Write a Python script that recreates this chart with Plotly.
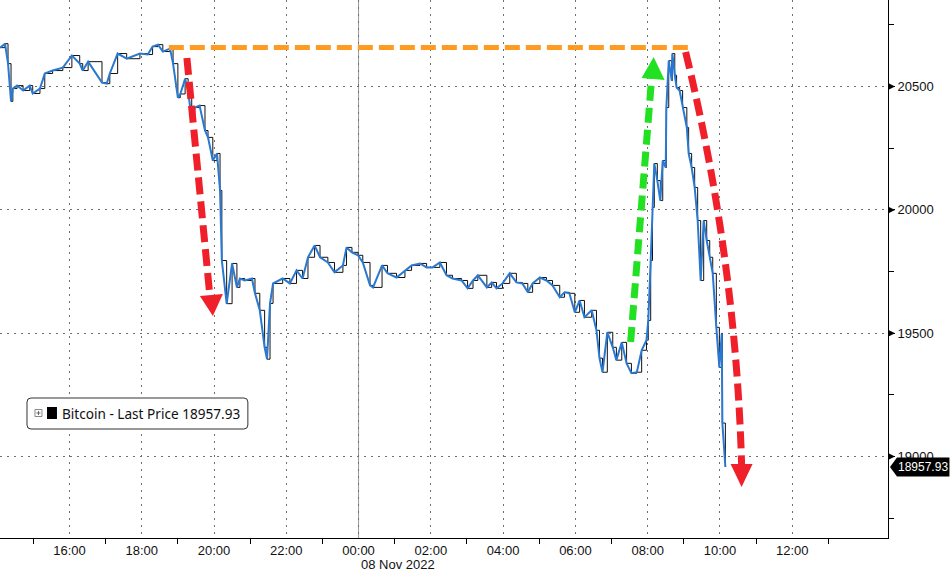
import plotly.graph_objects as go

# ---------------- data ----------------
times = [
    "2022-11-07 14:05", "2022-11-07 14:13", "2022-11-07 14:18", "2022-11-07 14:23", "2022-11-07 14:26",
    "2022-11-07 14:33", "2022-11-07 14:43", "2022-11-07 14:54", "2022-11-07 14:59", "2022-11-07 15:11",
    "2022-11-07 15:19", "2022-11-07 15:32", "2022-11-07 15:49", "2022-11-07 16:04", "2022-11-07 16:17",
    "2022-11-07 16:22", "2022-11-07 16:31", "2022-11-07 16:54", "2022-11-07 17:02", "2022-11-07 17:07",
    "2022-11-07 17:20", "2022-11-07 17:35", "2022-11-07 17:57", "2022-11-07 18:10", "2022-11-07 18:18",
    "2022-11-07 18:27", "2022-11-07 18:35", "2022-11-07 18:47", "2022-11-07 18:52", "2022-11-07 19:00",
    "2022-11-07 19:04", "2022-11-07 19:12", "2022-11-07 19:17", "2022-11-07 19:23", "2022-11-07 19:28",
    "2022-11-07 19:36", "2022-11-07 19:45", "2022-11-07 19:50", "2022-11-07 19:58", "2022-11-07 20:05",
    "2022-11-07 20:10", "2022-11-07 20:13", "2022-11-07 20:21", "2022-11-07 20:30", "2022-11-07 20:38",
    "2022-11-07 20:43", "2022-11-07 20:51", "2022-11-07 21:03", "2022-11-07 21:08", "2022-11-07 21:16",
    "2022-11-07 21:24", "2022-11-07 21:28", "2022-11-07 21:33", "2022-11-07 21:38", "2022-11-07 21:54",
    "2022-11-07 22:06", "2022-11-07 22:17", "2022-11-07 22:27", "2022-11-07 22:36", "2022-11-07 22:47",
    "2022-11-07 22:56", "2022-11-07 23:09", "2022-11-07 23:20", "2022-11-07 23:34", "2022-11-07 23:40",
    "2022-11-07 23:49", "2022-11-07 23:59", "2022-11-08 00:07", "2022-11-08 00:19", "2022-11-08 00:24",
    "2022-11-08 00:39", "2022-11-08 00:48", "2022-11-08 01:03", "2022-11-08 01:17", "2022-11-08 01:28",
    "2022-11-08 01:42", "2022-11-08 01:53", "2022-11-08 02:03", "2022-11-08 02:15", "2022-11-08 02:26",
    "2022-11-08 02:36", "2022-11-08 02:51", "2022-11-08 03:01", "2022-11-08 03:10", "2022-11-08 03:18",
    "2022-11-08 03:33", "2022-11-08 03:41", "2022-11-08 03:49", "2022-11-08 03:59", "2022-11-08 04:11",
    "2022-11-08 04:22", "2022-11-08 04:32", "2022-11-08 04:41", "2022-11-08 04:49", "2022-11-08 05:01",
    "2022-11-08 05:12", "2022-11-08 05:22", "2022-11-08 05:34", "2022-11-08 05:42", "2022-11-08 05:50",
    "2022-11-08 05:59", "2022-11-08 06:07", "2022-11-08 06:15", "2022-11-08 06:27", "2022-11-08 06:35",
    "2022-11-08 06:40", "2022-11-08 06:45", "2022-11-08 06:53", "2022-11-08 07:02", "2022-11-08 07:08",
    "2022-11-08 07:17", "2022-11-08 07:25", "2022-11-08 07:33", "2022-11-08 07:42", "2022-11-08 07:50",
    "2022-11-08 07:58", "2022-11-08 08:01", "2022-11-08 08:05", "2022-11-08 08:08", "2022-11-08 08:11",
    "2022-11-08 08:16", "2022-11-08 08:21", "2022-11-08 08:25", "2022-11-08 08:30", "2022-11-08 08:31",
    "2022-11-08 08:35", "2022-11-08 08:40", "2022-11-08 08:41", "2022-11-08 08:45", "2022-11-08 08:48",
    "2022-11-08 08:53", "2022-11-08 08:58", "2022-11-08 09:05", "2022-11-08 09:08", "2022-11-08 09:13",
    "2022-11-08 09:18", "2022-11-08 09:23", "2022-11-08 09:28", "2022-11-08 09:33", "2022-11-08 09:38",
    "2022-11-08 09:43", "2022-11-08 09:48", "2022-11-08 09:54", "2022-11-08 09:59", "2022-11-08 10:03",
    "2022-11-08 10:04", "2022-11-08 10:09",
]
prices = [
    20658, 20674, 20593, 20440, 20492,
    20504, 20484, 20504, 20472, 20492,
    20553, 20565, 20577, 20626, 20593,
    20565, 20601, 20516, 20512, 20553,
    20634, 20613, 20634, 20630, 20662,
    20670, 20642, 20654, 20593, 20455,
    20470, 20532, 20484, 20362, 20415,
    20423, 20322, 20294, 20200, 20229,
    20079, 19795, 19620, 19783, 19686,
    19722, 19714, 19722, 19662, 19593,
    19443, 19395, 19621, 19702, 19722,
    19702, 19755, 19722, 19808, 19856,
    19808, 19787, 19747, 19775, 19848,
    19828, 19816, 19787, 19694, 19686,
    19775, 19743, 19726, 19755, 19775,
    19783, 19767, 19767, 19787, 19735,
    19722, 19714, 19682, 19714, 19735,
    19686, 19706, 19682, 19702, 19743,
    19706, 19702, 19666, 19702, 19726,
    19714, 19694, 19646, 19666, 19662,
    19585, 19633, 19565, 19593, 19512,
    19399, 19342, 19504, 19443, 19391,
    19463, 19378, 19338, 19342, 19431,
    19472, 19552, 19795, 20010, 20188,
    20119, 20038, 20200, 20172, 20415,
    20605, 20524, 20634, 20546, 20496,
    20484, 20415, 20334, 20229, 20172,
    20091, 19957, 19714, 19957, 19876,
    19808, 19743, 19524, 19362, 19500,
    19136, 18957.93,
]
last_price = 18957.93
series_name = "Bitcoin - Last Price"
resistance_level = 20658

x_tick_vals = ["2022-11-07 16:00", "2022-11-07 18:00", "2022-11-07 20:00", "2022-11-07 22:00",
               "2022-11-08 00:00", "2022-11-08 02:00", "2022-11-08 04:00", "2022-11-08 06:00",
               "2022-11-08 08:00", "2022-11-08 10:00", "2022-11-08 12:00"]
x_tick_text = ["16:00", "18:00", "20:00", "22:00", "00:00", "02:00", "04:00", "06:00",
               "08:00", "10:00", "12:00"]
x_minor_vals = ["2022-11-07 15:00", "2022-11-07 17:00", "2022-11-07 19:00", "2022-11-07 21:00",
                "2022-11-07 23:00", "2022-11-08 01:00", "2022-11-08 03:00", "2022-11-08 05:00",
                "2022-11-08 07:00", "2022-11-08 09:00", "2022-11-08 11:00", "2022-11-08 13:00"]
y_tick_vals = [19000, 19500, 20000, 20500]
y_minor_vals = [18750, 19250, 19750, 20250, 20750]
date_label = "08 Nov 2022"

X_RANGE = ["2022-11-07 14:04:40", "2022-11-08 14:39"]
Y_RANGE = [18670, 20851]

# ---------------- layout geometry ----------------
W, H = 950, 572
ML, MR, MT, MB = 0, 61.5, 0, 34
PW, PH = W - ML - MR, H - MT - MB


def px(x):
    return x / PW


def py(y):
    return 1 - y / PH


def yv(v):
    return (v - Y_RANGE[0]) / (Y_RANGE[1] - Y_RANGE[0])


def path(pts, close=False):
    s = "M " + " L ".join(f"{px(a):.5f},{py(b):.5f}" for a, b in pts)
    return s + (" Z" if close else "")


FONT_NARROW = "Liberation Sans Narrow, Arial Narrow, Liberation Sans, Arial, sans-serif"
FONT = "Liberation Sans, Arial, sans-serif"

fig = go.Figure()

# candle-like black stepped outline
fig.add_trace(go.Scatter(
    x=times, y=prices, mode="lines", line=dict(color="#111111", width=1, shape="hv"),
    hoverinfo="skip", showlegend=False))
# blue close line
fig.add_trace(go.Scatter(
    x=times, y=prices, mode="lines", name=series_name,
    line=dict(color="#2a78d0", width=2), showlegend=False))

shapes = []

# day boundary
shapes.append(dict(type="line", xref="x", yref="paper", x0="2022-11-08 00:00", x1="2022-11-08 00:00",
                   y0=0, y1=1, line=dict(color="#9a9a9a", width=1), layer="below"))

# orange resistance dashed line
shapes.append(dict(type="line", xref="x", yref="y", x0="2022-11-07 18:45", x1="2022-11-08 09:15",
                   y0=resistance_level, y1=resistance_level,
                   line=dict(color="#ff9a22", width=5, dash="15px,6px")))

RED = "#f0202a"
GREEN = "#22e022"
# red arrow 1
shapes.append(dict(type="path", xref="paper", yref="paper",
                   path=path([(187, 58), (210, 296)]),
                   line=dict(color=RED, width=7, dash="17px,7px")))
shapes.append(dict(type="path", xref="paper", yref="paper",
                   path=path([(200, 296), (223, 294), (213, 316)], True),
                   fillcolor=RED, line=dict(width=0)))
# green arrow
shapes.append(dict(type="path", xref="paper", yref="paper",
                   path=path([(631, 342), (652, 78)]),
                   line=dict(color=GREEN, width=7, dash="15px,7px")))
shapes.append(dict(type="path", xref="paper", yref="paper",
                   path=path([(642, 78), (665, 80), (654, 57)], True),
                   fillcolor=GREEN, line=dict(width=0)))
# red curved arrow 2
shapes.append(dict(type="path", xref="paper", yref="paper",
                   path=(f"M {px(686):.5f},{py(52):.5f} Q {px(736):.5f},{py(257):.5f} "
                         f"{px(742):.5f},{py(464):.5f}"),
                   line=dict(color=RED, width=7, dash="17px,7px")))
shapes.append(dict(type="path", xref="paper", yref="paper",
                   path=path([(731, 464), (753, 464), (742, 487)], True),
                   fillcolor=RED, line=dict(width=0)))

# y major tick markers (small triangles)
for v in y_tick_vals:
    yp = (1 - yv(v)) * PH
    shapes.append(dict(type="path", xref="paper", yref="paper",
                       path=path([(PW, yp - 3.5), (PW + 7, yp), (PW, yp + 3.5)], True),
                       fillcolor="black", line=dict(width=0)))

# legend box
r = 4
lx0, lx1, ly0, ly1 = 27, 248, 398, 429
shapes.append(dict(type="path", xref="paper", yref="paper",
                   path=(f"M {px(lx0 + r)},{py(ly0)} L {px(lx1 - r)},{py(ly0)} "
                         f"Q {px(lx1)},{py(ly0)} {px(lx1)},{py(ly0 + r)} "
                         f"L {px(lx1)},{py(ly1 - r)} Q {px(lx1)},{py(ly1)} {px(lx1 - r)},{py(ly1)} "
                         f"L {px(lx0 + r)},{py(ly1)} Q {px(lx0)},{py(ly1)} {px(lx0)},{py(ly1 - r)} "
                         f"L {px(lx0)},{py(ly0 + r)} Q {px(lx0)},{py(ly0)} {px(lx0 + r)},{py(ly0)} Z"),
                   fillcolor="white", line=dict(color="#333333", width=1)))
shapes.append(dict(type="rect", xref="paper", yref="paper",
                   x0=px(35), x1=px(42), y0=py(416.5), y1=py(409.5),
                   line=dict(color="#888888", width=1), fillcolor="white"))
shapes.append(dict(type="line", xref="paper", yref="paper",
                   x0=px(36.5), x1=px(40.5), y0=py(413), y1=py(413),
                   line=dict(color="#666666", width=1)))
shapes.append(dict(type="line", xref="paper", yref="paper",
                   x0=px(38.5), x1=px(38.5), y0=py(411), y1=py(415),
                   line=dict(color="#666666", width=1)))
shapes.append(dict(type="rect", xref="paper", yref="paper",
                   x0=px(47), x1=px(57), y0=py(419), y1=py(407),
                   line=dict(width=0), fillcolor="black"))

# last price tag
tag_y = (1 - yv(last_price)) * PH
shapes.append(dict(type="path", xref="paper", yref="paper",
                   path=path([(PW + 2, tag_y), (PW + 9, tag_y - 9.5), (W, tag_y - 9.5),
                              (W, tag_y + 9.5), (PW + 9, tag_y + 9.5)], True),
                   fillcolor="black", line=dict(width=0)))

annotations = [
    dict(xref="paper", yref="paper", x=px(60), y=py(413.5), xanchor="left", yanchor="middle",
         text=f"{series_name} {last_price:.2f}", showarrow=False,
         font=dict(family="Noto Sans, DejaVu Sans, sans-serif", size=13.6, color="#111111")),
    dict(xref="paper", yref="paper", x=px(PW + 9 + (W - PW - 9) / 2), y=py(tag_y), xanchor="center",
         yanchor="middle", text=f"{last_price:.2f}", showarrow=False,
         font=dict(family=FONT, size=12, color="white")),
    dict(xref="paper", yref="paper", x=px(398), y=py(564), xanchor="center", yanchor="middle",
         text=date_label, showarrow=False, font=dict(family=FONT_NARROW, size=13, color="#111111")),
]

fig.update_layout(
    width=W, height=H,
    margin=dict(l=ML, r=MR, t=MT, b=MB, pad=0),
    paper_bgcolor="white", plot_bgcolor="white",
    showlegend=False,
    shapes=shapes, annotations=annotations,
    xaxis=dict(
        type="date", range=X_RANGE,
        tickmode="array", tickvals=x_tick_vals, ticktext=x_tick_text,
        ticks="", showgrid=True, gridcolor="#707070", griddash="2px,5px", gridwidth=1,
        showline=True, linecolor="black", linewidth=1, zeroline=False,
        tickfont=dict(family=FONT_NARROW, size=13, color="#111111"),
        minor=dict(tickmode="array", tickvals=x_minor_vals, ticks="outside", ticklen=5,
                   tickcolor="black", tickwidth=1, showgrid=False),
    ),
    yaxis=dict(
        side="right", range=Y_RANGE,
        tickmode="array", tickvals=y_tick_vals, ticktext=[str(v) for v in y_tick_vals],
        ticks="outside", ticklen=6, tickcolor="black", tickwidth=1,
        showgrid=True, gridcolor="#707070", griddash="2px,5px", gridwidth=1,
        showline=True, linecolor="black", linewidth=1, zeroline=False,
        tickfont=dict(family=FONT, size=13, color="#111111"),
        minor=dict(tickmode="array", tickvals=y_minor_vals, ticks="outside", ticklen=5,
                   tickcolor="black", tickwidth=1, showgrid=False),
    ),
)

fig.write_html("out.html", config={"displayModeBar": False, "staticPlot": True},
               post_script="document.body.style.margin='0';document.body.style.overflow='hidden';")
